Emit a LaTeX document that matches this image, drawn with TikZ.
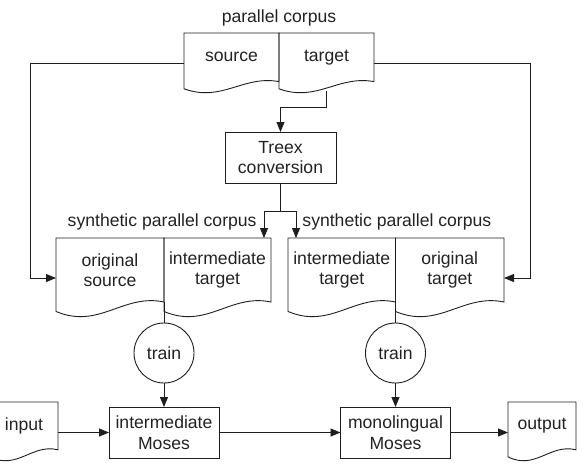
\documentclass[tikz,border=0pt]{standalone}
\usepackage{fontspec}
\setmainfont{Liberation Sans}
\usetikzlibrary{arrows.meta,calc}
\definecolor{ln}{HTML}{1E1E1E}
\definecolor{tx}{HTML}{222222}
\newcommand\docoutline[1]{%
  \draw[docline] let \p1=(#1.north west), \p2=(#1.south east),
    \n1={\x2-\x1}, \n2={\y2-\y1} in
    (\x1,\y1) -- (\x2,\y1) -- (\x2,\y2)
    .. controls ({\x1+0.62*\n1},{\y1+0.864*\n2}) and ({\x1+0.40*\n1},{\y1+1.432*\n2}) ..
    (\x1,{\y1+1.148*\n2}) -- cycle;}
\begin{document}
\begin{tikzpicture}[x=1pt,y=-1pt,line width=0.9pt,
  font=\fontsize{17.6}{20.5}\selectfont, text=tx, draw=ln,
  docnode/.style={inner sep=0pt, outer sep=0pt, align=center},
  docline/.style={draw=ln, line width=0.9pt},
  box/.style={draw=ln, inner sep=0pt, outer sep=0pt, align=center, minimum width=110pt, minimum height=51pt},
  roundnode/.style={draw=ln, circle, inner sep=0pt, outer sep=0pt, minimum size=60pt},
  lbl/.style={inner sep=0pt},
  arr/.style={draw=ln, -{Triangle[length=10pt,width=8pt]}},
  plain/.style={draw=ln}]
\useasboundingbox (0,0) rectangle (583,474);

% labels
\node[lbl] (lpc) at (279,18) {parallel corpus};
\node[lbl, anchor=east] (lsl) at (257,222) {synthetic parallel corpus};
\node[lbl, anchor=west] (lsr) at (302,222) {synthetic parallel corpus};

% top documents
\node[docnode, minimum width=95pt, minimum height=48.6pt] (src) at (231.5,57.3) {source};
\node[docnode, minimum width=95pt, minimum height=48.6pt] (tgt) at (326.5,57.3) {target};
\docoutline{src}
\docoutline{tgt}

% Treex
\node[box, minimum width=111pt] (treex) at (280.5,157.5) {Treex\\conversion};

% lower documents
\node[docnode, minimum width=108pt, minimum height=64pt] (osrc) at (110,270) {original\\source};
\node[docnode, minimum width=107pt, minimum height=64pt] (itgt) at (217.5,270) {intermediate\\target};
\node[docnode, minimum width=107.5pt, minimum height=64pt] (itgtb) at (341.75,270) {intermediate\\target};
\node[docnode, minimum width=108.5pt, minimum height=64pt] (otgt) at (449.75,270) {original\\target};
\docoutline{osrc}
\docoutline{itgt}
\docoutline{itgtb}
\docoutline{otgt}

% train
\node[roundnode] (trA) at (164,353) {train};
\node[roundnode] (trB) at (395.5,353) {train};

% Moses
\node[box] (imoses) at (164,432.5) {intermediate\\Moses};
\node[box] (mmoses) at (395.5,432.5) {monolingual\\Moses};

% input / output
\node[docnode, minimum width=68pt, minimum height=47.8pt] (inp) at (24,425.9) {input};
\node[docnode, minimum width=68pt, minimum height=47.8pt] (outp) at (542,425.9) {output};
\docoutline{inp}
\docoutline{outp}

% side connectors
\coordinate (lt) at (30.5,63);
\coordinate (lb) at (30.5,278);
\coordinate (rt) at (530,63);
\coordinate (rb) at (530,278);
\draw[arr] (src.west |- lt) -- (lt) -- (lb) -- (osrc.west |- lb);
\draw[arr] (tgt.east |- rt) -- (rt) -- (rb) -- (otgt.east |- rb);

% target -> Treex
\draw[arr] ([yshift=-9.5pt]tgt.south) |- ([yshift=25pt]treex.north) -- (treex.north);

% Treex -> synthetic corpora
\draw[plain] (treex.south) -- ++(0,-28pt) coordinate (split);
\draw[arr] (split) -| ($(itgt.north -| split)+(-16.5pt,0)$);
\draw[arr] (split) -| ($(itgtb.north -| split)+(15.5pt,0)$);

% docs -> train -> Moses
\draw[plain] (itgt.south west) -- (trA.north);
\draw[plain] (otgt.south west) -- (trB.north);
\draw[arr] (trA.south) -- (imoses.north);
\draw[arr] (trB.south) -- (mmoses.north);

% bottom chain
\draw[arr] (inp.east |- imoses.west) -- (imoses.west);
\draw[arr] (imoses.east) -- (mmoses.west);
\draw[arr] (mmoses.east) -- (outp.west |- mmoses.east);
\end{tikzpicture}
\end{document}
